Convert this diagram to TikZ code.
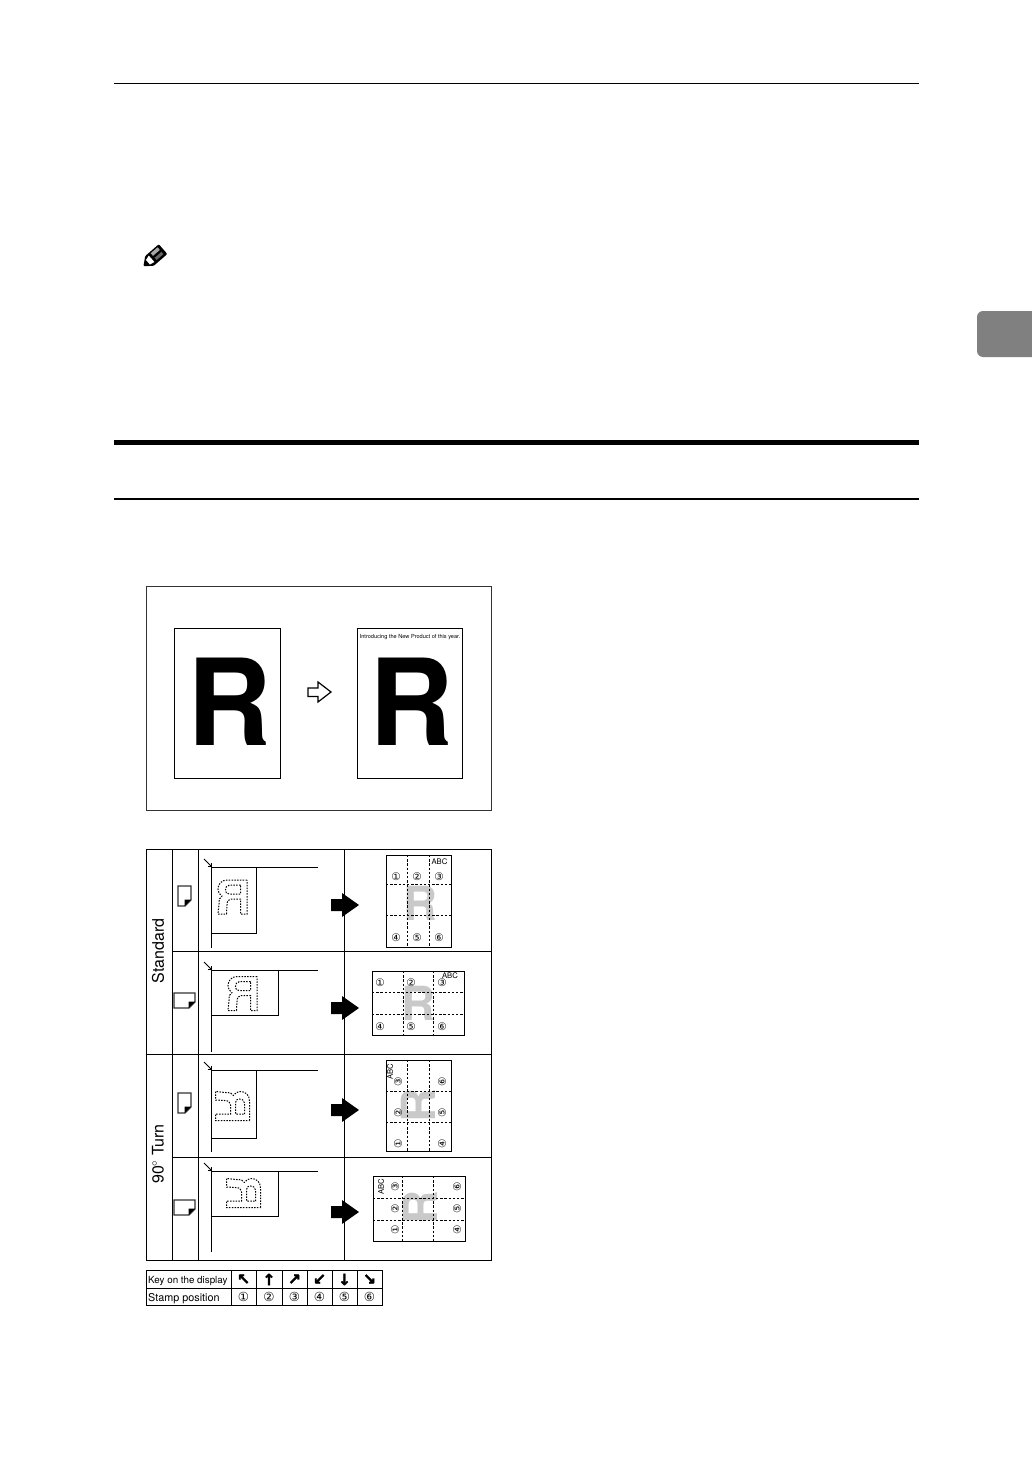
\documentclass[tikz,border=0pt]{standalone}
\usepackage{fontspec}
\setmainfont{TeX Gyre Heros}
\newfontfamily\dvfont{DejaVu Sans}
\newfontfamily\dvheavy[FakeBold=2]{DejaVu Sans Bold}
\usepackage{xcolor}
\definecolor{tabgray}{HTML}{808080}
\definecolor{faded}{HTML}{C9C9C9}
\begin{document}
\begin{tikzpicture}[x=1pt,y=-1pt,
  grid/.style={line width=1pt,black},
  doc/.style={draw,line width=1pt,black},
  fold/.style={line width=1pt,dash pattern=on 2.4pt off 1.8pt},
  bigr/.style={inner sep=0pt,xscale=0.97,font=\bfseries\fontsize{120}{120}\selectfont},
  ghost/.style={inner sep=0pt,faded,font=\bfseries\fontsize{47}{47}\selectfont},
  stamp/.style={inner sep=0pt,font=\fontsize{7.7}{7.7}\selectfont},
  num/.style={inner sep=0pt,font=\dvfont\fontsize{10.5}{10.5}\selectfont},
  cell/.style={inner sep=0pt,anchor=base west,font=\fontsize{9.8}{9.8}\selectfont},
  side/.style={inner sep=0pt,rotate=90,font=\fontsize{16}{16}\selectfont},
  keyarrow/.style={inner sep=0pt,font=\dvheavy\fontsize{15.5}{15.5}\selectfont},
  keynum/.style={inner sep=0pt,font=\dvfont\fontsize{12.5}{12.5}\selectfont},
  pics/sheeticon/.style n args={2}{code={
    \draw[line width=1.2pt,black!80] (0,0) -- (#1,0) -- (#1,#2-6) -- (#1-6,#2) -- (0,#2) -- cycle;
    \fill[black] (#1-6.5,#2) -- (#1-6.5,#2-6.5) -- (#1,#2-6.5) -- cycle;}},
  pics/glass/.style n args={3}{code={
    \draw[line width=0.9pt] (-7,-8) -- (0,-1);
    \draw[line width=0.6pt] (-3.5,-1) -- (0,-1) -- (0,-4.5);
    \draw[line width=1pt] (0,#1) -- (0,0) -- (107,0);
    \draw[line width=1pt] (#2,0) -- (#2,#3) -- (0,#3);}},
  pics/routline/.style={code={
    \draw[line width=1pt,dash pattern=on 1.5pt off 1.3pt]
      (-14.5,-17) -- (5,-17) .. controls (11,-17) and (14.5,-13) .. (14.5,-8)
      .. controls (14.5,-5) and (13,-2) .. (10.5,-1) .. controls (13,0) and (13.5,3) .. (13.5,7)
      -- (14.5,17) -- (6,17) -- (5.5,8) .. controls (5.5,4) and (4,2) .. (1,2)
      -- (-8,2) -- (-8,17) -- (-14.5,17) -- cycle
      (-8,-12) -- (3,-12) .. controls (6,-12) and (7,-9) .. (7,-7)
      .. controls (7,-4) and (6,-3) .. (3,-3) -- (-8,-3) -- cycle;}},
  pics/fatarrow/.style={code={
    \fill[black] (-14,-6) -- (-3,-6) -- (-3,-12) -- (14,0) -- (-3,12) -- (-3,6) -- (-14,6) -- cycle;}}]
  \path[use as bounding box,fill=white] (0,0) rectangle (1032,1458);

  \draw[line width=1pt] (114,84) -- (919,84);
  \draw[line width=5pt] (114,442) -- (919,442);
  \draw[line width=2.8pt] (114,499) -- (919,499);
  \fill[tabgray,rounded corners=6pt] (977,311) rectangle (1045,357);

  \begin{scope}[shift={(154,257)},rotate=41]
    \fill[black,rounded corners=1pt] (-14,0) -- (-6,-6.5) -- (12,-6.5) -- (12,6.5) -- (-6,6.5) -- cycle;
    \fill[white] (-8,-3) -- (-3,-4.5) -- (-3,4) -- (-8,3) -- cycle;
    \fill[black!35] (0,-5) rectangle (9,-1.5);
    \fill[black!60] (0,1) rectangle (9,4);
  \end{scope}

  \draw[line width=1pt,black!80] (146,586) rectangle (491,810);
  \draw[doc] (174.5,628) rectangle (280,778);
  \draw[doc] (357,628) rectangle (462,778);
  \node[bigr] (srcr) at (229.5,701.5) {R};
  \node[bigr] (outr) at (411.5,701.5) {R};
  \node[inner sep=0pt,font=\fontsize{5.6}{5.6}\selectfont] (headline) at (410,637) {Introducing the New Product of this year.};
  \draw[line width=1.2pt] (308,688) -- (318,688) -- (318,682) -- (331,692) -- (318,702) -- (318,696.5) -- (308,696.5) -- cycle;

  \draw[grid] (146,849) rectangle (491,1260);
  \draw[grid] (146,1054) -- (491,1054);
  \draw[grid] (172,951) -- (491,951);
  \draw[grid] (172,1157) -- (491,1157);
  \draw[grid] (172,849) -- (172,1260);
  \draw[grid] (198,849) -- (198,1260);
  \draw[grid] (344,849) -- (344,1260);
  \node[side] (standard) at (158,951) {Standard};
  \node[side] (turn) at (158,1154) {90$^{\circ}$ Turn};

  \pic at (178,886) {sheeticon={13}{20}};
  \pic at (174,993) {sheeticon={21}{15}};
  \pic at (178,1093) {sheeticon={13}{20}};
  \pic at (174,1200) {sheeticon={21}{15}};

  \pic at (211,867) {glass={81}{45}{66}};
  \pic at (211,970) {glass={82}{67}{45}};
  \pic at (211,1070) {glass={82}{45}{68}};
  \pic at (211,1171) {glass={81}{67}{45}};
  \pic[xscale=-1] at (232.5,897) {routline};
  \pic[xscale=-1] at (242.5,993.5) {routline};
  \pic[rotate=-90,xscale=-1] at (232.5,1106) {routline};
  \pic[rotate=-90,xscale=-1] at (243.5,1193) {routline};

  \pic at (345,905) {fatarrow};
  \pic at (345,1008) {fatarrow};
  \pic at (345,1110) {fatarrow};
  \pic at (345,1212) {fatarrow};

  \node[ghost] (rone) at (420,903) {R};
  \draw[doc] (386,855) rectangle (451,947);
  \foreach \x in {407,429} \draw[fold] (\x,855) -- (\x,947);
  \foreach \y in {884,915} \draw[fold] (386,\y) -- (451,\y);
  \node[stamp] (abcone) at (439.5,862) {ABC};
  \foreach \x/\d in {396/①,417/②,439/③} \node[num] (ta\d) at (\x,877) {\d};
  \foreach \x/\d in {396/④,417/⑤,439/⑥} \node[num] (ta\d) at (\x,938) {\d};

  \node[ghost] (rtwo) at (418,1003.5) {R};
  \draw[doc] (372,971) rectangle (464,1035);
  \foreach \x in {403,433} \draw[fold] (\x,971) -- (\x,1035);
  \foreach \y in {992,1014} \draw[fold] (372,\y) -- (464,\y);
  \node[stamp] (abctwo) at (450,976) {ABC};
  \foreach \x/\d in {380/①,411/②,442/③} \node[num] (tb\d) at (\x,983) {\d};
  \foreach \x/\d in {380/④,411/⑤,442/⑥} \node[num] (tb\d) at (\x,1027) {\d};

  \node[ghost,rotate=90] (rthree) at (418.5,1106) {R};
  \draw[doc] (386,1060) rectangle (451,1151);
  \foreach \x in {407,429} \draw[fold] (\x,1060) -- (\x,1151);
  \foreach \y in {1091,1122} \draw[fold] (386,\y) -- (451,\y);
  \node[stamp,rotate=90] (abcthree) at (390,1072) {ABC};
  \foreach \y/\d in {1082/③,1113/②,1144/①} \node[num,rotate=90] (tc\d) at (398,\y) {\d};
  \foreach \y/\d in {1082/⑥,1113/⑤,1144/④} \node[num,rotate=90] (tc\d) at (442,\y) {\d};

  \node[ghost,rotate=90] (rfour) at (420,1207.5) {R};
  \draw[doc] (373,1176) rectangle (465,1241);
  \foreach \x in {402,433} \draw[fold] (\x,1176) -- (\x,1241);
  \foreach \y in {1198,1220} \draw[fold] (373,\y) -- (465,\y);
  \node[stamp,rotate=90] (abcfour) at (381,1187) {ABC};
  \foreach \y/\d in {1187/③,1209/②,1230/①} \node[num,rotate=90] (td\d) at (395,\y) {\d};
  \foreach \y/\d in {1187/⑥,1209/⑤,1230/④} \node[num,rotate=90] (td\d) at (457,\y) {\d};

  \draw[doc] (146,1270) rectangle (382,1305);
  \draw[doc] (146,1288) -- (382,1288);
  \foreach \x in {231,256,282,307,332,357} \draw[doc] (\x,1270) -- (\x,1305);
  \node[cell] (keyrow) at (148,1283) {Key on the display};
  \node[cell,font=\fontsize{10.8}{10.8}\selectfont] (stamprow) at (148,1301) {Stamp position};
  \foreach \x/\a/\d in {243.5/↖/①,269/↑/②,294.5/↗/③,319.5/↙/④,344.5/↓/⑤,369.5/↘/⑥} {
    \node[keyarrow] (key\d) at (\x,1279.5) {\a};
    \node[keynum] (pos\d) at (\x,1297) {\d};}
\end{tikzpicture}
\end{document}
